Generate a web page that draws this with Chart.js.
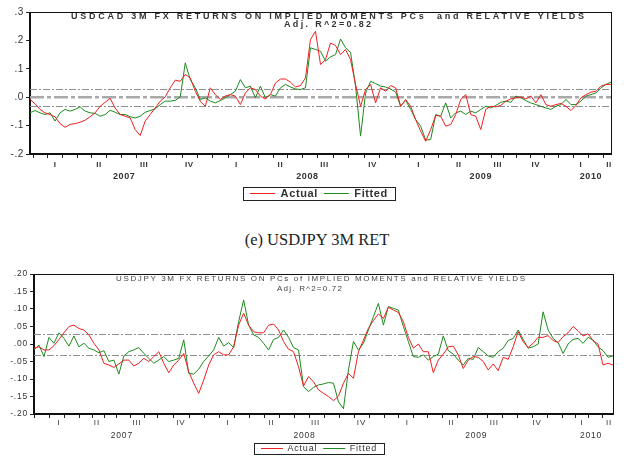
<!DOCTYPE html>
<html>
<head>
<meta charset="utf-8">
<script src="https://cdn.jsdelivr.net/npm/chart.js@4.4.1/dist/chart.umd.min.js"></script>
<style>
  html, body { margin: 0; padding: 0; background: #fff; width: 624px; height: 458px; overflow: hidden; position: relative; }
  canvas { position: absolute; left: 0; }
  #c1 { top: 0; }
  #c2 { top: 262px; }
  #caption { position: absolute; left: 0; width: 634px; top: 231px; text-align: center;
             font: 16.5px 'Liberation Serif', 'DejaVu Serif', serif; line-height: 18px; color: #222; }
</style>
</head>
<body>
<canvas id="c1" width="638" height="209"></canvas>
<div id="caption">(e) USDJPY 3M RET</div>
<canvas id="c2" width="638" height="201"></canvas>
<script>
const cadActual = [
  -0.008, -0.023, -0.043, -0.055, -0.061, -0.069, -0.093, -0.106, -0.096, -0.093,
  -0.088, -0.081, -0.069, -0.055, -0.032, -0.018, -0.004, -0.038, -0.061, -0.067,
  -0.073, -0.114, -0.135, -0.084, -0.061, -0.038, -0.014, 0.001, 0.033, 0.060,
  0.056, 0.080, 0.068, 0.021, -0.014, -0.032, 0.033, 0.009, -0.008, 0.004,
  0.009, 0.004, -0.026, 0.015, 0.033, 0.027, 0.004, -0.006, 0.009, 0.050,
  0.064, 0.064, 0.053, 0.036, 0.041, 0.068, 0.203, 0.232, 0.115, 0.132,
  0.191, 0.182, 0.150, 0.168, 0.132, 0.045, -0.032, 0.027, 0.045, -0.020,
  0.033, 0.021, 0.041, 0.033, -0.032, -0.008, -0.032, -0.079, -0.120, -0.155,
  -0.114, -0.064, -0.067, -0.102, -0.096, -0.061, -0.008, 0.009, -0.061, -0.067,
  -0.114, -0.043, -0.032, -0.034, -0.029, -0.014, -0.006, -0.002, 0.001, -0.006,
  0.004, -0.020, 0.009, -0.026, -0.032, -0.026, -0.022, -0.032, -0.047, -0.029,
  -0.002, 0.009, 0.018, 0.021, 0.039, 0.045, 0.045
];
const cadFitted = [
  -0.055, -0.047, -0.055, -0.061, -0.055, -0.084, -0.055, -0.043, -0.049, -0.043,
  -0.034, -0.049, -0.055, -0.057, -0.067, -0.061, -0.046, -0.053, -0.061, -0.061,
  -0.069, -0.073, -0.067, -0.053, -0.047, -0.041, -0.026, -0.014, -0.014, -0.011,
  0.001, 0.121, 0.062, 0.033, -0.008, -0.002, -0.014, -0.020, -0.012, -0.002,
  0.009, 0.021, 0.062, 0.033, 0.039, -0.002, 0.039, -0.002, 0.009, 0.004,
  0.033, 0.045, 0.036, 0.029, 0.027, 0.033, 0.174, 0.168, 0.162, 0.127,
  0.142, 0.150, 0.205, 0.174, 0.158, 0.039, -0.137, 0.015, 0.056, 0.048,
  0.039, 0.036, 0.029, 0.018, -0.032, -0.011, -0.043, -0.079, -0.102, -0.151,
  -0.149, -0.061, -0.067, -0.020, -0.073, -0.055, -0.049, -0.061, -0.049, -0.055,
  -0.043, -0.032, -0.038, -0.029, -0.018, -0.014, -0.018, 0.004, -0.002, -0.012,
  -0.020, -0.026, -0.032, -0.038, -0.043, -0.032, -0.026, -0.008, -0.026, -0.026,
  -0.014, 0.004, 0.009, 0.015, 0.033, 0.045, 0.053
];
const jpyActual = [
  -0.012, -0.008, -0.017, -0.017, -0.005, 0.013, 0.032, 0.050, 0.054, 0.044,
  0.040, 0.026, 0.002, -0.017, -0.055, -0.060, -0.067, -0.057, -0.046, -0.046,
  -0.063, -0.055, -0.041, -0.050, -0.036, -0.022, -0.055, -0.082, -0.060, -0.046,
  -0.027, -0.079, -0.112, -0.141, -0.103, -0.060, -0.031, -0.022, -0.031, -0.031,
  -0.008, 0.054, 0.088, 0.054, 0.035, 0.032, 0.032, 0.054, 0.057, 0.040,
  0.007, -0.015, -0.022, -0.065, -0.120, -0.093, -0.108, -0.131, -0.141, -0.150,
  -0.162, -0.149, -0.112, -0.084, -0.098, -0.022, 0.011, 0.045, 0.067, 0.086,
  0.073, 0.105, 0.097, 0.090, 0.064, 0.019, -0.012, 0.000, -0.022, -0.022,
  -0.082, -0.046, -0.029, -0.008, -0.006, -0.031, -0.070, -0.046, -0.036, -0.038,
  -0.050, -0.074, -0.057, -0.076, -0.038, -0.044, -0.008, 0.035, 0.007, -0.010,
  0.002, 0.019, 0.019, 0.024, 0.010, 0.004, 0.021, 0.032, 0.050, 0.038,
  0.023, 0.029, 0.010, 0.000, -0.060, -0.055, -0.060
];
const jpyFitted = [
  -0.017, -0.003, -0.036, 0.019, 0.002, 0.032, 0.016, -0.006, 0.023, -0.008,
  0.002, -0.012, -0.017, -0.025, -0.019, -0.050, -0.046, -0.086, -0.034, -0.022,
  -0.017, -0.010, -0.027, -0.041, -0.055, -0.046, -0.036, -0.050, -0.046, -0.041,
  0.012, -0.084, -0.086, -0.072, -0.050, -0.034, -0.017, 0.019, -0.006, 0.004,
  -0.010, 0.064, 0.126, 0.054, 0.026, 0.019, 0.002, -0.017, 0.013, 0.019,
  0.040, 0.019, -0.010, -0.017, -0.122, -0.136, -0.124, -0.117, -0.114, -0.110,
  -0.112, -0.165, -0.185, -0.074, 0.007, -0.017, 0.002, 0.040, 0.078, 0.116,
  0.054, 0.107, 0.102, 0.097, 0.050, 0.007, -0.036, -0.038, -0.031, -0.046,
  -0.036, -0.029, 0.023, -0.019, -0.029, -0.046, -0.060, -0.041, -0.044, -0.010,
  -0.022, -0.034, -0.038, -0.022, -0.012, 0.010, 0.016, 0.040, 0.013, -0.012,
  -0.008, 0.000, 0.092, 0.040, 0.016, 0.004, -0.027, 0.000, 0.013, 0.016,
  0.002, 0.019, 0.011, -0.008, -0.019, -0.038, -0.034
];

// Time axis labels (positions in observation units)
const quarterNames = ['I', 'II', 'III', 'IV', 'I', 'II', 'III', 'IV', 'I', 'II', 'III', 'IV', 'I', 'II'];
const yearNames = ['2007', '2008', '2009', '2010'];
const cadQuarterPos = [5.0, 13.8, 22.8, 31.8, 41.2, 50.0, 58.8, 68.4, 77.6, 85.6, 93.4, 101.0, 110.0, 115.6];
const cadQuarterEdges = [0.6, 9.4, 18.3, 27.3, 36.5, 45.6, 54.4, 63.6, 73.0, 81.6, 89.5, 97.2, 105.5, 114.6];
const cadYearPos = [18.8, 55.4, 90.0, 112.0];
const jpyQuarterPos = [5.0, 12.6, 20.6, 29.4, 38.8, 47.6, 56.4, 65.6, 74.8, 83.6, 92.2, 100.8, 109.8, 115.2];
const jpyQuarterEdges = [0.2, 9.2, 16.6, 24.8, 34.2, 43.2, 52.2, 61.2, 70.2, 78.8, 87.8, 96.8, 105.8, 113.8];
const jpyYearPos = [17.6, 54.2, 88.6, 111.6];

// Value axis ticks and reference levels
const cadYTicks = [-0.2, -0.1, 0, 0.1, 0.2, 0.3];
const jpyYTicks = [-0.2, -0.15, -0.1, -0.05, 0, 0.05, 0.1, 0.15, 0.2];
const cadBands = [0.03, -0.03];
const jpyBands = [0.03, -0.03];

Chart.defaults.font.family = "'Liberation Sans', Arial, sans-serif";
Chart.defaults.animation = false;

function monthTicks(edges, max) {
  const out = [];
  edges.forEach((e, i) => {
    out.push(e);
    const next = i < edges.length - 1 ? edges[i + 1] : e + (e - edges[i - 1]);
    [1, 2].forEach(k => {
      const v = e + (next - e) * k / 3;
      if (v <= max) out.push(v);
    });
  });
  return out;
}

function pointsOf(values) {
  return values.map((v, i) => ({ x: i, y: v }));
}

function fitText(ctx, text, x0, x1, y) {
  ctx.letterSpacing = '0px';
  const w = ctx.measureText(text).width;
  const gap = Math.max(0, (x1 - x0 - w) / (text.length - 1));
  ctx.letterSpacing = gap + 'px';
  ctx.fillText(text, x0, y);
}

// EViews-like frame: bands, zero line, box, inner titles, boxed legend
const eviewsFrame = {
  id: 'eviewsFrame',
  beforeUpdate(chart, args, opts) { chart.ctx.letterSpacing = opts.spacing + 'px'; },
  beforeDraw(chart, args, opts) { chart.ctx.letterSpacing = opts.spacing + 'px'; },
  beforeDatasetsDraw(chart, args, opts) {
    const { ctx, chartArea: a } = chart;
    const y = chart.scales.y;
    ctx.save();
    if (opts.zeroLine) {
      const pz = y.getPixelForValue(0);
      ctx.strokeStyle = '#a9a9a9';
      ctx.lineWidth = 2.5;
      ctx.setLineDash([14, 3, 4, 3]);
      ctx.beginPath(); ctx.moveTo(a.left, pz); ctx.lineTo(a.right, pz); ctx.stroke();
    }
    ctx.strokeStyle = '#8f8f8f';
    ctx.lineWidth = 1;
    ctx.setLineDash([7, 2, 2, 2]);
    opts.bands.forEach(v => {
      const py = Math.round(y.getPixelForValue(v)) + 0.5;
      ctx.beginPath(); ctx.moveTo(a.left, py); ctx.lineTo(a.right, py); ctx.stroke();
    });
    ctx.restore();
  },
  afterDraw(chart, args, opts) {
    const { ctx, chartArea: a } = chart;
    ctx.save();
    ctx.strokeStyle = '#111';
    ctx.lineWidth = 1;
    ctx.setLineDash([]);
    ctx.strokeRect(Math.round(a.left) - 0.5, Math.round(a.top) + 0.5,
                   Math.round(a.right - a.left) + 1, Math.round(a.bottom - a.top) - 1);

    ctx.fillStyle = opts.titleColor;
    ctx.font = opts.titleFont;
    ctx.textBaseline = 'middle';
    ctx.textAlign = 'left';
    opts.titles.forEach(t => fitText(ctx, t.text, t.x0, t.x1, t.y));

    const hb = chart.legend.legendHitBoxes;
    if (hb && hb.length) {
      const last = hb[hb.length - 1];
      const l = Math.round(hb[0].left - 7), r = Math.round(last.left + last.width + 7);
      const t = Math.round(hb[0].top - 1), b = Math.round(hb[0].top + hb[0].height + 1);
      ctx.letterSpacing = '0px';
      ctx.strokeStyle = '#222';
      ctx.lineWidth = 1;
      ctx.strokeRect(l + 0.5, t + 0.5, r - l, b - t);
    }
    ctx.restore();
  }
};

function makeChart(id, p) {
  const yFmt = v => Number(v).toFixed(p.decimals).replace('0.', '.');
  return new Chart(document.getElementById(id), {
    type: 'line',
    data: {
      datasets: [
        { label: 'Actual', data: pointsOf(p.actual), borderColor: '#ee2020', borderWidth: 1, pointRadius: 0, tension: 0 },
        { label: 'Fitted', data: pointsOf(p.fitted), borderColor: '#1c8a1c', borderWidth: 1, pointRadius: 0, tension: 0 }
      ]
    },
    options: {
      responsive: false,
      layout: { padding: { top: p.top, left: 0, right: 0, bottom: 0 } },
      plugins: {
        tooltip: { enabled: false },
        legend: {
          position: 'bottom',
          labels: {
            usePointStyle: true, pointStyle: 'line', pointStyleWidth: p.legendLine,
            padding: 6, color: '#333',
            font: { size: p.legendSize, weight: p.legendWeight }
          }
        },
        eviewsFrame: {
          spacing: p.spacing, bands: p.bands, zeroLine: p.zeroLine,
          titles: p.titles, titleFont: p.titleFont, titleColor: p.titleColor
        }
      },
      scales: {
        x: {
          type: 'linear', position: 'bottom', min: 0, max: 116, weight: 0,
          afterBuildTicks: s => { s.ticks = monthTicks(p.edges, 116).map(v => ({ value: v })); },
          afterFit: s => { s.height = p.hTick; },
          ticks: { display: false, autoSkip: false },
          grid: { drawOnChartArea: false, tickLength: 4, tickColor: '#222' },
          border: { color: '#111', width: 1 }
        },
        xq: {
          type: 'linear', position: 'bottom', min: 0, max: 116, weight: 1,
          afterBuildTicks: s => { s.ticks = p.quarterPos.map(v => ({ value: v })); },
          afterFit: s => { s.height = p.hQuarter; },
          ticks: {
            autoSkip: false, maxRotation: 0, padding: p.padQuarter, color: '#333',
            font: { size: p.quarterSize, weight: p.axisWeight },
            callback: (v, i) => quarterNames[i]
          },
          grid: { display: false, drawTicks: false },
          border: { display: false }
        },
        xy: {
          type: 'linear', position: 'bottom', min: 0, max: 116, weight: 2,
          afterBuildTicks: s => { s.ticks = p.yearPos.map(v => ({ value: v })); },
          afterFit: s => { s.height = p.hYear; },
          ticks: {
            autoSkip: false, maxRotation: 0, padding: p.padYear, color: '#333',
            font: { size: p.yearSize, weight: p.axisWeight },
            callback: (v, i) => yearNames[i]
          },
          grid: { display: false, drawTicks: false },
          border: { display: false }
        },
        y: {
          type: 'linear', position: 'left', min: p.yTicks[0], max: p.yTicks[p.yTicks.length - 1],
          afterBuildTicks: s => { s.ticks = p.yTicks.map(v => ({ value: v })); },
          afterFit: s => { s.width = p.left; },
          ticks: { padding: 2, color: '#333', font: { size: p.ySize }, callback: yFmt },
          grid: { drawOnChartArea: false, tickLength: 4, tickColor: '#222' },
          border: { color: '#111', width: 1 }
        },
        y2: {
          type: 'linear', position: 'right',
          afterFit: s => { s.width = p.rightPad; },
          ticks: { display: false },
          grid: { display: false },
          border: { display: false }
        }
      }
    },
    plugins: [eviewsFrame]
  });
}

makeChart('c1', {
  actual: cadActual, fitted: cadFitted, decimals: 1, yTicks: cadYTicks,
  edges: cadQuarterEdges, quarterPos: cadQuarterPos, yearPos: cadYearPos,
  bands: cadBands, zeroLine: true,
  top: 12, left: 30, rightPad: 27,
  hTick: 5, hQuarter: 11, hYear: 12, padQuarter: 1, padYear: 1,
  quarterSize: 8, yearSize: 9, ySize: 10, axisWeight: 'bold',
  legendSize: 11, legendWeight: 'bold', legendLine: 25,
  spacing: 0.6,
  titleFont: "bold 9px 'Liberation Sans', Arial, sans-serif", titleColor: '#333',
  titles: [
    { text: 'USDCAD 3M FX RETURNS ON IMPLIED MOMENTS PCs  and RELATIVE YIELDS', x0: 71, x1: 584, y: 16.5 },
    { text: 'Adj. R^2=0.82', x0: 284, x1: 371, y: 25 }
  ]
});

makeChart('c2', {
  actual: jpyActual, fitted: jpyFitted, decimals: 2, yTicks: jpyYTicks,
  edges: jpyQuarterEdges, quarterPos: jpyQuarterPos, yearPos: jpyYearPos,
  bands: jpyBands, zeroLine: false,
  top: 12, left: 34, rightPad: 25,
  hTick: 4, hQuarter: 10, hYear: 10, padQuarter: 0, padYear: 3,
  quarterSize: 8, yearSize: 8.5, ySize: 8.5, axisWeight: 'normal',
  legendSize: 9, legendWeight: 'normal', legendLine: 22,
  spacing: 0.8,
  titleFont: "8px 'Liberation Sans', Arial, sans-serif", titleColor: '#444',
  titles: [
    { text: 'USDJPY 3M FX RETURNS ON PCs of IMPLIED MOMENTS and RELATIVE YIELDS', x0: 116, x1: 525, y: 17 },
    { text: 'Adj. R^2=0.72', x0: 277, x1: 342, y: 27 }
  ]
});
</script>
</body>
</html>
